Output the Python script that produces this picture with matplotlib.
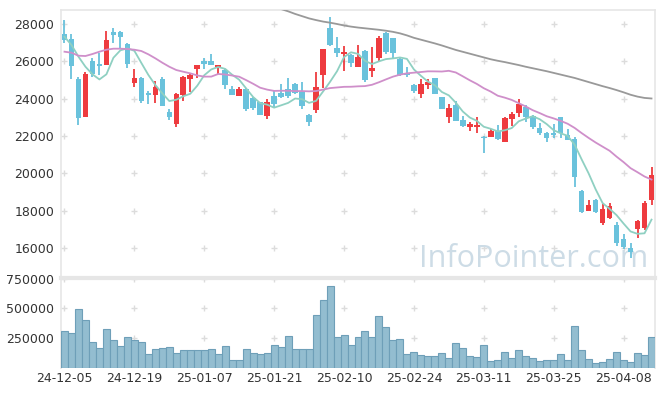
import numpy as np
import pandas as pd
import matplotlib
matplotlib.use("Agg")
import matplotlib.pyplot as plt

# daily OHLC (KRW), 24-12-05 .. 25-04-14
opens = [27464, 27196, 25052, 23032, 26017, 25856, 25800, 27555, 27555, 26928,
         24820, 25105, 24285, 24211, 25052, 23283, 22624, 24211, 25036, 25588,
         26000, 26017, 25710, 25534, 24516, 24157, 24516, 24017, 23800, 23068,
         24125, 24285, 24516, 24784, 24339, 23122, 23390, 25284, 27785, 26730,
         26408, 26338, 25711, 26553, 25497, 26194, 27500, 27233, 26108, 25389,
         24730, 24248, 24730, 25090, 24071, 23032, 23658, 22854, 22495, 22495,
         21960, 21960, 22281, 21694, 22908, 23246, 23535, 23085, 22410, 22173,
         22142, 23000, 22070, 21836, 19049, 17975, 18581, 17350, 17585, 17226,
         16476, 15976, 16995, 17050, 18566]
highs = [28214, 27464, 25150, 25443, 26196, 26429, 27625, 27769, 27600, 26970,
         25570, 25180, 24425, 24962, 25175, 23444, 24300, 25230, 25389, 25800,
         26200, 26376, 25820, 25600, 24677, 24600, 24550, 24100, 23830, 23964,
         24462, 24784, 25090, 24820, 24908, 23200, 25427, 26680, 28359, 27320,
         26821, 26400, 26874, 26600, 26783, 27340, 27590, 27250, 26200, 25711,
         24760, 25036, 25036, 25110, 24090, 23696, 23873, 23085, 22763, 23031,
         21980, 22350, 22586, 23031, 23300, 23964, 23658, 23100, 22678, 22200,
         22640, 23030, 22356, 21950, 19100, 18581, 18600, 18352, 18400, 17405,
         16744, 16245, 17500, 18500, 20318]
lows = [26982, 25052, 22600, 23000, 25175, 25266, 25780, 26965, 26697, 25625,
        24607, 23782, 23712, 23750, 23600, 22854, 22495, 23889, 24371, 25122,
        25600, 25780, 25320, 24500, 24180, 24140, 23337, 23370, 23100, 22924,
        23580, 24060, 24050, 24250, 23450, 22533, 23213, 24553, 26821, 26247,
        25497, 25700, 25690, 24908, 25143, 26035, 26392, 26161, 25230, 25143,
        24318, 24017, 24500, 24230, 23440, 22678, 22800, 22460, 22281, 22140,
        21069, 21940, 21800, 21680, 22533, 23000, 22763, 22356, 22060, 21694,
        21873, 21873, 21760, 19280, 17853, 17960, 17870, 17226, 17560, 16100,
        15924, 15441, 16512, 16960, 18298]
closes = [27142, 25765, 22980, 25320, 25320, 25765, 27142, 27410, 27320, 25839,
          25105, 23889, 24211, 24607, 23621, 23032, 24248, 25143, 25266, 25786,
          25839, 25800, 25800, 24746, 24211, 24516, 23460, 23498, 23122, 23800,
          23712, 24087, 24141, 24302, 23621, 22731, 24607, 26660, 26890, 26462,
          26515, 25893, 26247, 24998, 25625, 27233, 26499, 26429, 25250, 25250,
          24409, 24784, 24890, 24248, 23460, 23498, 22817, 22533, 22640, 22585,
          21905, 22265, 21835, 22946, 23176, 23712, 23000, 22463, 22142, 21873,
          22070, 22174, 21785, 19781, 17939, 18313, 17921, 18080, 18245, 16246,
          16065, 15797, 17441, 18390, 19906]
volumes = [314, 297, 497, 406, 214, 164, 331, 233, 181, 264,
           233, 214, 114, 156, 164, 172, 122, 147, 147, 147,
           147, 156, 114, 181, 64, 64, 156, 122, 114, 122,
           189, 172, 272, 156, 156, 156, 447, 572, 689, 264,
           281, 197, 264, 308, 256, 439, 347, 233, 247, 114,
           131, 106, 97, 97, 122, 81, 206, 164, 97, 89,
           189, 56, 64, 131, 81, 147, 97, 81, 56, 64,
           64, 114, 64, 356, 147, 72, 39, 47, 72, 131,
           64, 47, 122, 106, 256]
volumes = [v * 1000 for v in volumes]

# moving average values before the window fills (need older data)
ma5_head = [27320, 26874, 26250, 25711]
ma20_head = [26516, 26462, 26301, 26285, 26392, 26516, 26623, 26677, 26677, 26660,
             26623, 26553, 26376, 26161, 25926, 25711, 25534, 25443, 25357]
# long MA (grey), visible from index 31 on
ma_long = [28800, 28680, 28540, 28420, 28300, 28210, 28130, 28070, 28000, 27920,
           27860, 27810, 27770, 27730, 27690, 27640, 27580, 27500, 27390, 27260,
           27160, 27060, 26960, 26850, 26730, 26610, 26510, 26410, 26310, 26210,
           26110, 26030, 25960, 25880, 25800, 25710, 25630, 25550, 25470, 25380,
           25290, 25200, 25110, 25000, 24890, 24780, 24670, 24570, 24460, 24340,
           24210, 24110, 24040, 24010]
ma_long_start = 31

tick_idx = [0, 10, 20, 30, 40, 50, 60, 70, 80]
tick_labels = ["24-12-05", "24-12-19", "25-01-07", "25-01-21", "25-02-10",
               "25-02-24", "25-03-11", "25-03-25", "25-04-08"]

df = pd.DataFrame({"open": opens, "high": highs, "low": lows, "close": closes, "volume": volumes})
n = len(df)
x = np.arange(n)

ma5 = df["close"].rolling(5).mean().values
ma5[:len(ma5_head)] = ma5_head
ma20 = df["close"].rolling(20).mean().values
ma20[:len(ma20_head)] = ma20_head
ma_l = np.full(n, np.nan)
ma_l[ma_long_start:ma_long_start + len(ma_long)] = ma_long

UP = "#ee3b3f"
DOWN = "#6ac2dc"
GRID = "#dcdcdc"
SPINE = "#e6e6e6"
TXT = "#333333"

plt.rcParams["font.family"] = ["DejaVu Sans"]
fig = plt.figure(figsize=(6.65, 3.96), dpi=100)
ax = fig.add_axes([61 / 665, 1 - 278 / 396, 594 / 665, 268 / 396])
axv = fig.add_axes([61 / 665, 1 - 368 / 396, 594 / 665, 90 / 396], sharex=ax)

# candles
up = df["close"] >= df["open"]
colors = np.where(up, UP, DOWN)
body_bottom = np.minimum(df["open"], df["close"])
body_h = np.maximum((df["close"] - df["open"]).abs(), 60)
ax.vlines(x, df["low"], df["high"], colors=colors, linewidth=1.3, zorder=2)
ax.bar(x, body_h, bottom=body_bottom, width=0.8, color=colors, linewidth=0, zorder=3)

ax.plot(x, ma5, color="#8fd0c2", linewidth=1.3, zorder=4)
ax.plot(x, ma20, color="#cf8fca", linewidth=1.3, zorder=4)
ax.plot(x, ma_l, color="#999999", linewidth=1.3, zorder=4)

ax.set_xlim(-0.5, n - 0.5)
ax.set_ylim(14393, 28750)
yt = [16000, 18000, 20000, 22000, 24000, 26000, 28000]
ax.set_yticks(yt)
ax.set_yticklabels([str(v) for v in yt])

ax.text(0.988, 0.041, "InfoPointer.com", transform=ax.transAxes, ha="right",
        va="baseline", fontsize=22, family=["Open Sans", "DejaVu Sans"],
        color="#cddce6", zorder=1)

# volume
axv.bar(x, df["volume"], width=1.0, color="#93bdd0", edgecolor="#6e9fb8",
        linewidth=0.8, zorder=3)
axv.set_ylim(0, 755000)
vt = [250000, 500000, 750000]
axv.set_yticks(vt)
axv.set_yticklabels([str(v) for v in vt])
axv.set_xticks(tick_idx)
axv.set_xticklabels(tick_labels)

# "+" markers at grid crossings
for a, ys in ((ax, yt), (axv, vt)):
    gx, gy = np.meshgrid(tick_idx, ys)
    a.plot(gx.ravel(), gy.ravel(), linestyle="none", marker="+", markersize=5,
           markeredgewidth=1, color=GRID, zorder=0)

for a in (ax, axv):
    a.tick_params(length=0, labelsize=9, colors=TXT, pad=5)
    for s in a.spines.values():
        s.set_color(SPINE)
        s.set_linewidth(1.2)
    a.spines["bottom"].set_visible(False)
ax.tick_params(labelbottom=False)
axv.spines["top"].set_linewidth(3)
axv.tick_params(axis="x", pad=3)

plt.savefig("out.png", dpi=100)
